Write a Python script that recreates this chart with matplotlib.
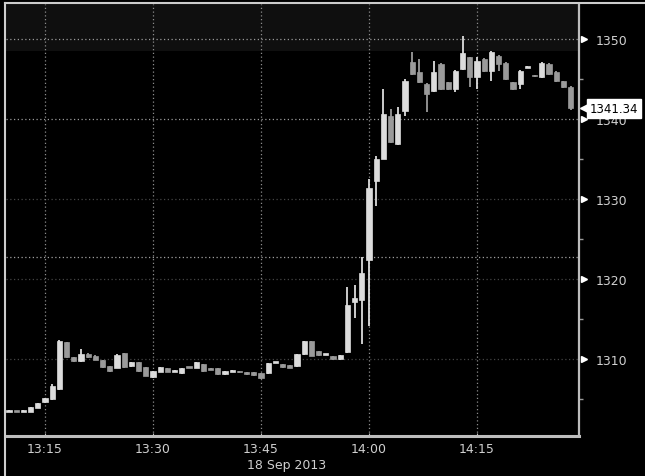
import matplotlib
matplotlib.use('Agg')
import matplotlib.pyplot as plt
import matplotlib.dates as mdates
import matplotlib.transforms as mtransforms
from matplotlib.lines import Line2D
import numpy as np
import pandas as pd

# one-minute candles, 18 Sep 2013, 13:10 .. 14:28
times = pd.date_range('2013-09-18 13:10', periods=79, freq='1min')

opens = [1303.45, 1303.5, 1303.4, 1303.4, 1303.9, 1304.6, 1305.0, 1306.3, 1312.1, 1310.25,
         1309.75, 1310.7, 1310.4, 1309.9, 1309.1, 1308.9, 1310.75, 1309.1, 1309.6, 1309.0,
         1307.75, 1308.4, 1308.9, 1308.45, 1308.25, 1309.0, 1308.9, 1309.4, 1308.8, 1308.9,
         1308.1, 1308.45, 1308.45, 1308.4, 1308.4, 1308.25, 1308.25, 1309.55, 1309.4, 1309.25,
         1309.1, 1310.6, 1312.25, 1311.0, 1310.55, 1310.4, 1310.0, 1310.9, 1317.1, 1317.4,
         1322.4, 1332.25, 1335.0, 1340.4, 1336.9, 1341.0, 1347.1, 1345.9, 1344.4, 1343.5,
         1346.9, 1344.6, 1343.75, 1346.25, 1347.75, 1345.25, 1347.5, 1346.0, 1347.9, 1347.0,
         1344.6, 1344.4, 1346.45, 1345.45, 1345.25, 1346.9, 1345.9, 1344.75, 1344.0]

closes = [1303.55, 1303.4, 1303.6, 1304.0, 1304.5, 1305.1, 1306.6, 1312.25, 1310.25, 1309.8,
          1310.6, 1310.3, 1309.9, 1309.0, 1308.5, 1310.5, 1309.0, 1309.6, 1308.5, 1307.9,
          1308.5, 1309.0, 1308.4, 1308.55, 1308.9, 1308.9, 1309.6, 1308.5, 1308.7, 1308.1,
          1308.5, 1308.55, 1308.35, 1308.1, 1308.0, 1307.6, 1309.5, 1309.65, 1309.0, 1308.9,
          1310.6, 1312.25, 1310.4, 1310.5, 1310.65, 1310.0, 1310.5, 1316.75, 1317.6, 1320.75,
          1331.4, 1335.0, 1340.6, 1337.1, 1340.6, 1344.75, 1345.6, 1344.6, 1343.1, 1345.9,
          1343.75, 1343.75, 1346.0, 1348.25, 1345.25, 1347.25, 1346.0, 1348.4, 1346.9, 1345.0,
          1343.75, 1346.0, 1346.55, 1345.35, 1347.0, 1345.6, 1344.75, 1344.0, 1341.34]

highs = [1303.6, 1303.55, 1303.65, 1304.05, 1304.55, 1305.2, 1306.9, 1312.4, 1312.2, 1310.3,
         1311.25, 1310.8, 1310.5, 1309.95, 1309.15, 1310.6, 1310.8, 1309.7, 1309.65, 1309.05,
         1308.55, 1309.05, 1308.95, 1308.6, 1308.95, 1309.05, 1309.65, 1309.45, 1308.85, 1308.95,
         1308.55, 1308.6, 1308.5, 1308.45, 1308.45, 1308.3, 1309.55, 1309.7, 1309.45, 1309.3,
         1310.65, 1312.3, 1312.3, 1311.05, 1310.7, 1310.45, 1310.55, 1319.0, 1319.25, 1322.75,
         1332.5, 1335.4, 1343.75, 1341.25, 1341.5, 1345.0, 1348.4, 1347.5, 1344.5, 1347.25,
         1347.0, 1344.7, 1346.1, 1350.4, 1347.8, 1347.75, 1347.6, 1348.5, 1348.0, 1347.1,
         1344.7, 1346.1, 1346.6, 1345.5, 1347.1, 1347.0, 1346.0, 1344.8, 1344.1]

lows = [1303.4, 1303.35, 1303.35, 1303.35, 1303.85, 1304.55, 1304.95, 1306.2, 1310.2, 1309.7,
        1309.7, 1310.2, 1309.85, 1308.95, 1308.45, 1308.85, 1308.95, 1309.05, 1308.45, 1307.85,
        1307.7, 1308.35, 1308.35, 1308.4, 1308.2, 1308.85, 1308.85, 1308.45, 1308.65, 1308.05,
        1308.05, 1308.4, 1308.3, 1308.05, 1307.95, 1307.5, 1308.2, 1309.5, 1308.95, 1308.85,
        1309.05, 1310.55, 1310.35, 1310.45, 1310.5, 1309.95, 1309.95, 1310.75, 1315.1, 1311.9,
        1314.1, 1329.1, 1335.0, 1337.0, 1336.8, 1340.4, 1345.5, 1344.5, 1340.9, 1343.4,
        1343.7, 1343.7, 1343.4, 1346.2, 1344.0, 1343.75, 1345.9, 1344.75, 1346.0, 1344.9,
        1343.7, 1343.75, 1346.4, 1345.3, 1345.2, 1345.5, 1344.7, 1343.9, 1341.2]

price_ticks = [1310, 1320, 1330, 1340, 1350]
time_ticks = ['13:15', '13:30', '13:45', '14:00', '14:15']
ref_level = 1322.75
last_price = 1341.34

o = np.array(opens)
c = np.array(closes)
x = mdates.date2num(times)
up = c >= o
colors = np.where(up, '#dcdcdc', '#9a9a9a')

fig = plt.figure(figsize=(6.45, 4.77), dpi=100, facecolor='black')
ax = fig.add_axes([6/645, 1 - 437/477, 573/645, 432/477])
ax.set_facecolor('black')

# slightly lighter band at the top
ax.axhspan(1348.5, 1356, color='#0f0f0f', zorder=0, lw=0)

# grid
tick_times = mdates.date2num(pd.to_datetime(['2013-09-18 ' + t for t in time_ticks]))
for tt in tick_times:
    ax.axvline(tt, color='#8c8c8c', lw=0.9, ls=(0, (1, 2)), zorder=1)
for p in price_ticks:
    bright = p in (1340, 1350)
    ax.axhline(p, color='#9a9a9a' if bright else '#444444', lw=0.9, ls=(0, (1, 2)), zorder=1)
ax.axhline(ref_level, color='#a0a0a0', lw=0.9, ls=(0, (1, 2)), zorder=1)

# candles
w = 0.72 / 1440
ax.vlines(x, lows, highs, colors=colors, lw=1.3, zorder=2)
ax.bar(x, np.maximum(np.abs(c - o), 0.2), bottom=np.minimum(o, c), width=w,
       color=colors, edgecolor=colors, lw=0.5, zorder=3)

ax.set_xlim(x[0] - 0.42 / 1440, x[0] + 79.17 / 1440)
ax.set_ylim(1300.4, 1354.4)

# spines
for s in ['left', 'top']:
    ax.spines[s].set_visible(False)
ax.spines['right'].set_color('#bdbdbd')
ax.spines['right'].set_linewidth(1.6)
ax.spines['bottom'].set_color('#bdbdbd')
ax.spines['bottom'].set_linewidth(2.2)

# x axis
ax.set_xticks(tick_times)
ax.set_xticklabels(time_ticks)
ax.tick_params(axis='x', colors='#bdbdbd', labelcolor='#cfcfcf', labelsize=9,
               length=2, direction='in', pad=4)

# y axis on the right
ax.yaxis.tick_right()
ax.set_yticks(price_ticks)
ax.set_yticks([1305, 1315, 1325, 1335, 1345], minor=True)
ax.tick_params(axis='y', which='major', length=0, pad=12, labelsize=9, labelcolor='#d0d0d0')
ax.tick_params(axis='y', which='minor', length=3, width=1, color='#9a9a9a', direction='out')

trans = mtransforms.blended_transform_factory(ax.transAxes, ax.transData)
ax.plot([1.009] * len(price_ticks), price_ticks, ls='none', marker='>', ms=5,
        color='white', transform=trans, clip_on=False, zorder=5)

# last price tag
ax.plot([1.012], [last_price], ls='none', marker='<', ms=9, color='white',
        transform=trans, clip_on=False, zorder=6)
ax.text(1.019, last_price, f'{last_price:.2f}', transform=trans, va='center', ha='left',
        fontsize=8.5, color='black', zorder=7, clip_on=False,
        bbox=dict(boxstyle='square,pad=0.25', fc='white', ec='white'))

fig.text(287/645, 1 - 466/477, '18 Sep 2013', ha='center', va='center',
         fontsize=9, color='#cfcfcf')

# outer border on left and top
fig.add_artist(Line2D([5/645, 5/645], [0, 1 - 4/477], transform=fig.transFigure,
                      color='#cccccc', lw=1.5))
fig.add_artist(Line2D([5/645, 1], [1 - 4/477, 1 - 4/477], transform=fig.transFigure,
                      color='#cccccc', lw=1.5))

fig.savefig('out.png', dpi=100, facecolor='black')
